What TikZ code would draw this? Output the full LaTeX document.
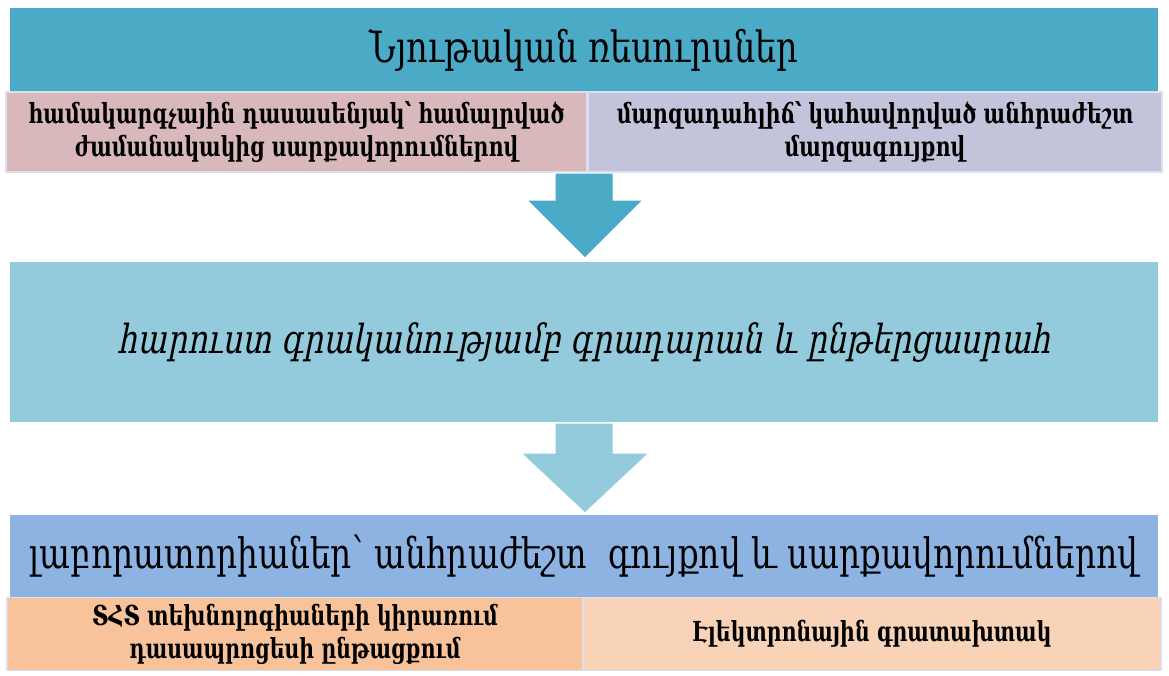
\documentclass[tikz,border=0pt]{standalone}
\usepackage{fontspec}
\setmainfont{DejaVu Serif}[FakeStretch=0.78]
\newfontfamily\armit{DejaVu Serif}[FakeStretch=0.78,FakeSlant=0.2]
\newfontfamily\armbf{DejaVu Serif Bold}[FakeStretch=0.74]
\definecolor{cTop}{HTML}{4BAAC6}
\definecolor{cPink}{HTML}{D9B8BC}
\definecolor{cLav}{HTML}{C3C3DB}
\definecolor{cMid}{HTML}{93CBDD}
\definecolor{cBlue}{HTML}{8DB3E2}
\definecolor{cOrange}{HTML}{F8C29A}
\definecolor{cPeach}{HTML}{F8D3B7}
\definecolor{cEdge}{HTML}{DCE0EE}
\tikzset{
  bar/.style={inner sep=0pt, outer sep=0pt, align=center, text=black},
  subbox/.style={bar, draw=cEdge, line width=1.2pt, font=\armbf\fontsize{27.6}{33}\selectfont},
  blockarrow/.style={draw=white, line width=1pt}
}
\begin{document}
\begin{tikzpicture}[x=1pt,y=-1pt]
\useasboundingbox[fill=white] (0,0) rectangle (1169,675);
% top bar
\node[bar, fill=cTop, minimum width=1148pt, minimum height=84pt,
      font=\fontsize{43}{46}\selectfont] (top) at (584,50)
  {Նյութական ռեսուրսներ};
\node[subbox, fill=cPink, minimum width=581pt, minimum height=80pt] (tl) at (296.5,132)
  {համակարգչային դասասենյակ՝ համալրված\\ժամանակակից սարքավորումներով};
\node[subbox, fill=cLav, minimum width=574pt, minimum height=80pt] (tr) at (875,132)
  {մարզադահլիճ՝ կահավորված անհրաժեշտ\\մարզագույքով};
% middle
\node[bar, fill=cMid, minimum width=1148pt, minimum height=160pt,
      font=\armit\fontsize{40}{44}\selectfont] (mid) at (584,342)
  {հարուստ գրականությամբ գրադարան և ընթերցասրահ};
% lab bar
\node[bar, fill=cBlue, minimum width=1148pt, minimum height=82pt,
      font=\fontsize{42}{46}\selectfont] (lab) at (584,556)
  {լաբորատորիաներ՝ անհրաժեշտ\ \ գույքով և սարքավորումներով};
\node[subbox, fill=cOrange, minimum width=576pt, minimum height=73pt] (bl) at (295,634)
  {ՏՀՏ տեխնոլոգիաների կիրառում\\դասապրոցեսի ընթացքում};
\node[subbox, fill=cPeach, minimum width=578pt, minimum height=73pt] (br) at (872,634)
  {Էլեկտրոնային գրատախտակ};
% arrows
\fill[cTop, blockarrow] (555,173) -- (613,173) -- (613,200) -- (643,200) -- (585,258) -- (527,200) -- (555,200) -- cycle;
\fill[cMid, blockarrow] (555,423) -- (613,423) -- (613,453) -- (649,453) -- (585,513) -- (521,453) -- (555,453) -- cycle;
\end{tikzpicture}
\end{document}
